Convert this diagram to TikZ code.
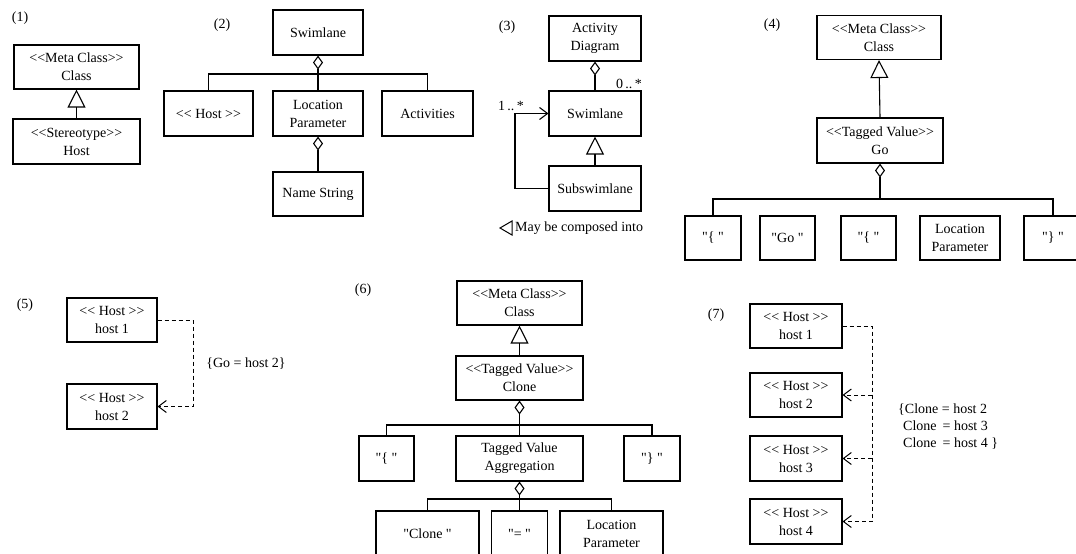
\documentclass[tikz,border=0pt]{standalone}
\usepackage{fontspec}
\setmainfont{Liberation Serif}[Ligatures=TeXOff]
\usetikzlibrary{arrows.meta}
\newcommand\LLt{<\kern0pt<}
\newcommand\GGt{>\kern0pt>}
\begin{document}
\begin{tikzpicture}[x=1pt,y=-1pt,
  font=\fontsize{14}{18}\selectfont,
  umlbox/.style={draw, line width=1.1pt, inner sep=0pt, align=center},
  conn/.style={line width=1.1pt},
  gen/.style={line width=1.1pt, -{Triangle[open,length=18pt,width=18pt]}},
  agg/.style={line width=1.1pt, -{Diamond[open,length=14pt,width=10pt]}},
  barb/.style={-{Straight Barb[length=8pt,width=12pt]}},
  dep/.style={line width=1pt, dash pattern=on 4pt off 3pt},
  lbl/.style={inner sep=0pt}]
\useasboundingbox (0,0) rectangle (1076,554);
\clip (0,0) rectangle (1076,554);

% ---------- (1)
\node[lbl] (p1) at (20,18) {(1)};
\node[umlbox, minimum width=125pt, minimum height=44pt] (c1) at (76.5,67) {\LLt Meta Class\GGt\\Class};
\node[umlbox, minimum width=127pt, minimum height=45pt] (s1) at (76.5,141.5) {\LLt Stereotype\GGt\\Host};
\draw[gen] (s1) -- (c1);

% ---------- (2)
\node[lbl] (p2) at (222,25) {(2)};
\node[umlbox, minimum width=90pt, minimum height=45pt] (sw2) at (318,32.5) {Swimlane};
\node[umlbox, minimum width=89pt, minimum height=45pt] (host2) at (208.5,113.5) {\LLt{} Host \GGt};
\node[umlbox, minimum width=90pt, minimum height=45pt] (loc2) at (318,113.5) {Location\\Parameter};
\node[umlbox, minimum width=91pt, minimum height=45pt] (act2) at (427.5,113.5) {Activities};
\node[umlbox, minimum width=90pt, minimum height=44pt] (name2) at (318,194) {Name String};
\coordinate (b2) at (318,74);
\draw[conn] (host2.north) |- (b2) -| (act2.north);
\draw[agg] (loc2.north) -- (sw2.south);
\draw[agg] (name2.north) -- (loc2.south);

% ---------- (3)
\node[lbl] (p3) at (507,27) {(3)};
\node[umlbox, minimum width=92pt, minimum height=45pt] (ad3) at (595,38.5) {Activity\\Diagram};
\node[umlbox, minimum width=92pt, minimum height=45pt] (sw3) at (595,113.5) {Swimlane};
\node[umlbox, minimum width=92pt, minimum height=45pt] (sub3) at (595,188.5) {Subswimlane};
\draw[agg] (sw3.north) -- (ad3.south);
\draw[gen] (sub3.north) -- (sw3.south);
\coordinate (l3) at (515,150);
\draw[conn, barb] (sub3.west) -- (sub3.west -| l3) |- (sw3.west);
\node[lbl] (m3a) at (629,84) {0\,..\,*};
\node[lbl] (m3b) at (511,106) {1\,..\,*};
\node[lbl, anchor=west] (leg3) at (515,228) {May be composed into};
\draw[line width=1pt] (leg3.west) ++(-3,-7) -- ++(-12,7) -- ++(12,7) -- cycle;

% ---------- (4)
\node[lbl] (p4) at (772,25) {(4)};
\node[umlbox, minimum width=124pt, minimum height=44pt] (c4) at (879,37.5) {\LLt Meta Class\GGt\\Class};
\node[umlbox, minimum width=126pt, minimum height=45pt] (go4) at (880,140.5) {\LLt Tagged Value\GGt\\Go};
\draw[gen] (go4.north) -- (c4.south);
\node[umlbox, minimum width=56pt, minimum height=44pt] (q41) at (713,238) {"\{ "};
\node[umlbox, minimum width=55pt, minimum height=44pt] (q42) at (787.5,238) {"Go "};
\node[umlbox, minimum width=55pt, minimum height=44pt] (q43) at (868.5,238) {"\{ "};
\node[umlbox, minimum width=80pt, minimum height=44pt] (loc4) at (960,238) {Location\\Parameter};
\node[umlbox, minimum width=58pt, minimum height=44pt] (q45) at (1053,238) {"\} "};
\coordinate (b4) at (880,199);
\draw[conn] (q41.north) |- (b4) -| (q45.north);
\draw[agg] (b4) -- (go4.south);

% ---------- (5)
\node[lbl] (p5) at (25,305) {(5)};
\node[umlbox, minimum width=90pt, minimum height=44pt] (h51) at (112,320) {\LLt{} Host \GGt\\host 1};
\node[umlbox, minimum width=90pt, minimum height=45pt] (h52) at (112,406.5) {\LLt{} Host \GGt\\host 2};
\coordinate (d5) at (193,360);
\draw[dep, barb] (h51.east) -- (h51.east -| d5) -- (h52.east -| d5) -- (h52.east);
\node[lbl] (t5) at (246,364) {\{Go = host 2\}};

% ---------- (6)
\node[lbl] (p6) at (363,290) {(6)};
\node[umlbox, minimum width=125pt, minimum height=44pt] (c6) at (519.5,303) {\LLt Meta Class\GGt\\Class};
\node[umlbox, minimum width=127pt, minimum height=44pt] (cl6) at (519.5,378) {\LLt Tagged Value\GGt\\Clone};
\draw[gen] (cl6.north) -- (c6.south);
\node[umlbox, minimum width=55pt, minimum height=45pt] (l6) at (386.5,458.5) {"\{ "};
\node[umlbox, minimum width=127pt, minimum height=45pt] (tva6) at (519.5,458.5) {Tagged Value\\Aggregation};
\node[umlbox, minimum width=56pt, minimum height=45pt] (r6) at (652,458.5) {"\} "};
\coordinate (b6) at (519.5,425);
\draw[conn] (l6.north) |- (b6) -| (r6.north);
\draw[agg] (tva6.north) -- (cl6.south);
\node[umlbox, minimum width=103pt, minimum height=46pt] (clone6) at (427.5,534) {"Clone "};
\node[umlbox, minimum width=56pt, minimum height=46pt] (eq6) at (519.5,534) {"= "};
\node[umlbox, minimum width=103pt, minimum height=46pt] (loc6) at (611.5,534) {Location\\Parameter};
\coordinate (b62) at (519.5,499);
\draw[conn] (clone6.north) |- (b62) -| (loc6.north);
\draw[agg] (eq6.north) -- (tva6.south);

% ---------- (7)
\node[lbl] (p7) at (716,315) {(7)};
\node[umlbox, minimum width=92pt, minimum height=44pt] (h71) at (796,326) {\LLt{} Host \GGt\\host 1};
\node[umlbox, minimum width=92pt, minimum height=44pt] (h72) at (796,395) {\LLt{} Host \GGt\\host 2};
\node[umlbox, minimum width=92pt, minimum height=45pt] (h73) at (796,458.5) {\LLt{} Host \GGt\\host 3};
\node[umlbox, minimum width=92pt, minimum height=45pt] (h74) at (796,521.5) {\LLt{} Host \GGt\\host 4};
\coordinate (t7) at (872,420);
\draw[dep, barb] (h71.east) -- (h71.east -| t7) -- (h74.east -| t7) -- (h74.east);
\draw[dep, barb] (h72.east -| t7) -- (h72.east);
\draw[dep, barb] (h73.east -| t7) -- (h73.east);
\node[lbl, anchor=north west, align=left, font=\fontsize{14}{17}\selectfont] (txt7) at (898,404)
  {\{Clone = host 2\\\hspace*{5pt}Clone\hspace*{6pt}= host 3\\\hspace*{5pt}Clone\hspace*{6pt}= host 4 \}};
\end{tikzpicture}
\end{document}
